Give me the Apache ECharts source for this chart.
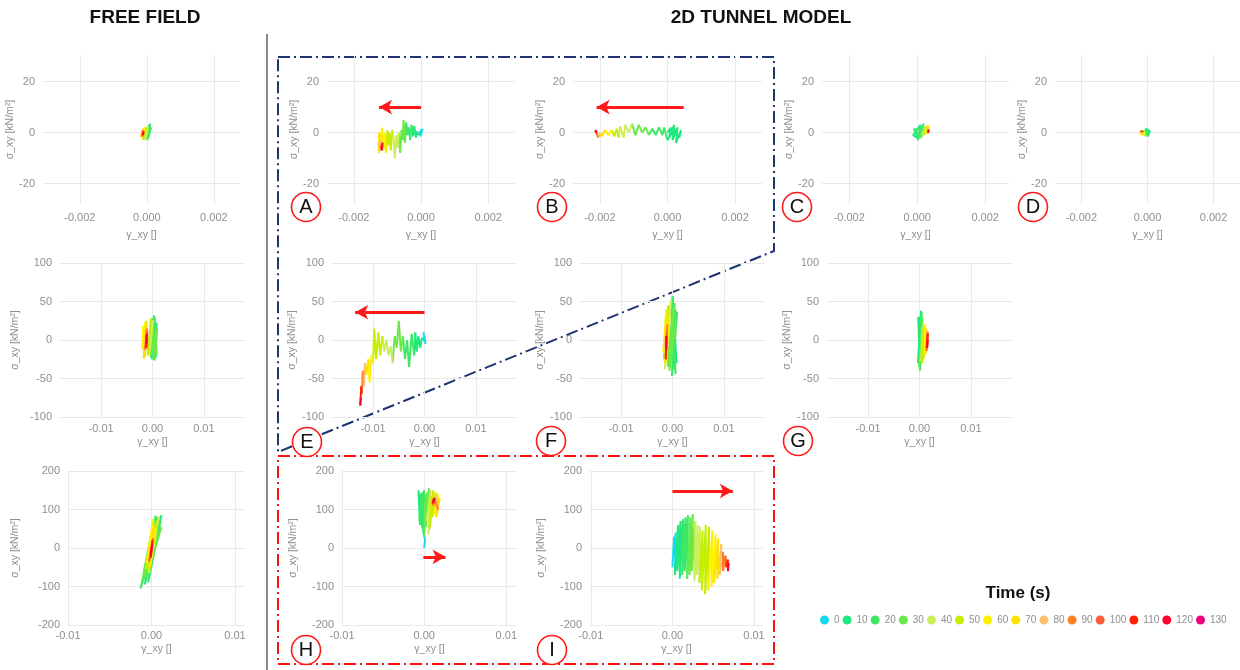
<!DOCTYPE html>
<html>
<head>
<meta charset="utf-8">
<script src="https://cdn.jsdelivr.net/npm/echarts@6/dist/echarts.min.js"></script>
<style>
  html, body { margin: 0; padding: 0; background: #fff; }
  #chart { width: 1240px; height: 670px; }
</style>
</head>
<body>
<div id="chart"></div>
<script>
// time bands of the colour legend (s)
const timeBands = [0, 10, 20, 30, 40, 50, 60, 70, 80, 90, 100, 110, 120, 130];

// stress-strain paths, each point = [gamma_xy, sigma_xy (kN/m2), time (s)]
const freeField1 = [[0,0,0],[0.00008,2.5,10],[0.00002,-2.5,12],[0.0001,3.5,14],[0.00004,-2,16],[0.00012,2,18],[0.00001,-2.8,20],[0.00007,3,24],[-0.00002,-2.2,28],[0.00005,1.5,32],[-0.00004,-3,36],[0.00003,2.5,40],[-0.00008,-2.5,44],[-0.00002,2,48],[-0.00012,-2.8,52],[-0.00006,2,56],[-0.00016,-2,60],[-0.0001,1.5,65],[-0.00018,-1.5,70],[-0.00012,1,78],[-0.00014,-1.5,90],[-0.0001,0.5,100],[-0.00012,-1,110],[-0.0001,0,120]];
const tunnelA = [[0.00005,1.5,0],[-0.00002,-1.5,3],[0,1,5],[-0.00008,-1,8],[-0.00012,0.5,10],[-0.00015,-2,12],[-0.0002,2.5,14],[-0.00024,-1.5,16],[-0.00028,3,18],[-0.00032,-3,20],[-0.00036,2,22],[-0.0004,-1,24],[-0.00044,4,26],[-0.00048,-4,28],[-0.00052,5,30],[-0.00055,-3,32],[-0.00058,1,34],[-0.00062,-8,36],[-0.00066,0,38],[-0.0007,-6,40],[-0.00074,-1,42],[-0.00078,-10,44],[-0.00082,-2,46],[-0.00086,1,48],[-0.0009,-7,50],[-0.00094,0,52],[-0.00098,-5,54],[-0.001,1,56],[-0.00104,-8,58],[-0.00108,0,60],[-0.00112,-7,62],[-0.00116,2,64],[-0.0012,-6,66],[-0.00124,0,68],[-0.00126,-8,70],[-0.0012,-1,72],[-0.00128,-5,74],[-0.00118,-3,80],[-0.00122,-6,88],[-0.00114,-4,100],[-0.00118,-7,110],[-0.00115,-5,120]];
const tunnelB = [[0,0,0],[0.0001,2,10],[0.00005,-2,11],[0.0002,3,12],[0.00015,-3,13],[0.0003,2,14],[0.00025,-4,15],[0.0004,1,16],[0.00035,-2,17],[0.0002,1.5,18],[0,-3,19],[-0.0001,2,20],[-0.00015,-1,21],[-0.00025,2,22],[-0.00035,-1,24],[-0.00045,1.5,26],[-0.00055,-1,28],[-0.00065,2,30],[-0.00075,0,32],[-0.00085,3,34],[-0.00095,-1,36],[-0.00105,3.5,38],[-0.00115,0,40],[-0.00125,3,42],[-0.0013,-2,44],[-0.0014,2.5,46],[-0.00145,-2,48],[-0.0015,1.5,50],[-0.00158,-1.5,54],[-0.00165,1,58],[-0.00175,-1,62],[-0.00185,1,66],[-0.00195,-1.5,72],[-0.002,0,78],[-0.00205,-2,85],[-0.0021,-0.5,95],[-0.00212,1,110],[-0.00214,0,125]];
const tunnelC = [[0,0,0],[-0.0001,1.5,10],[0.00005,-2.5,12],[-0.00012,-1,14],[0.0001,3,16],[0.00002,-3,18],[0.00015,2,20],[-0.00008,1,22],[0.00012,-2,24],[0.00018,3.5,26],[0.00008,-2,28],[0.0002,1,32],[0.00014,-1,36],[0.00024,2.5,40],[0.0002,-1,44],[0.00028,2.5,50],[0.00025,-0.5,55],[0.00032,3,60],[0.0003,-0.5,66],[0.00034,2,72],[0.00031,0,80],[0.00033,1.2,95],[0.00032,0,110],[0.00034,0.8,125]];
const tunnelD = [[0,0,0],[0.00005,1,10],[-0.00002,-1.2,12],[0.00008,0.5,14],[-0.00005,1.5,16],[0.00003,-1.5,18],[-0.00008,1.2,20],[0.00006,-0.8,22],[-0.0001,0.5,26],[-0.00004,-1.5,30],[-0.00012,1,36],[-0.00008,-1,42],[-0.00016,0.8,48],[-0.00012,-1.2,54],[-0.0002,0.5,60],[-0.00018,-0.8,68],[-0.00022,0.3,76],[-0.00016,0.6,100],[-0.00015,0.2,120]];
const freeField2 = [[0,0,0],[0.0008,22,10],[0.0006,-24,12],[0.0004,30,14],[0.0002,-26,16],[0,28,18],[0.0007,-20,20],[0.0005,25,22],[-0.0002,-25,24],[0.0003,32,26],[0.0008,-18,28],[-0.0001,20,30],[0.0004,-27,32],[0.0009,15,34],[-0.0004,-22,36],[0.0001,26,38],[-0.0006,-18,42],[-0.0003,28,46],[-0.0009,-20,50],[-0.0012,25,53],[-0.0015,-22,56],[-0.0018,18,59],[-0.002,-12,62],[-0.0014,24,65],[-0.0017,-24,68],[-0.0013,20,72],[-0.0016,-15,76],[-0.0011,15,82],[-0.0014,-12,90],[-0.001,12,100],[-0.0012,-10,108],[-0.0011,8,116],[-0.0012,-5,125]];
const tunnelE = [[0,5,0],[0.0002,-5,2],[-0.0002,10,4],[0.0001,-2,6],[-0.0005,3,8],[-0.0008,-10,10],[-0.0012,5,12],[-0.0015,-15,14],[-0.0018,10,16],[-0.002,-20,18],[-0.0025,8,20],[-0.003,-35,22],[-0.0034,0,24],[-0.0038,-25,26],[-0.0042,5,28],[-0.0046,-15,30],[-0.005,25,32],[-0.0054,-10,34],[-0.0058,5,36],[-0.0062,-30,38],[-0.0066,-8,40],[-0.007,-20,42],[-0.0074,0,44],[-0.0078,-15,46],[-0.0082,5,48],[-0.0086,-20,50],[-0.009,10,52],[-0.0094,-25,54],[-0.0098,15,56],[-0.01,-30,58],[-0.0103,-20,60],[-0.0107,-55,63],[-0.0109,-25,66],[-0.0113,-45,70],[-0.0116,-30,74],[-0.0118,-60,80],[-0.012,-40,86],[-0.0122,-70,95],[-0.0123,-60,105],[-0.0125,-85,118],[-0.0124,-75,125]];
const tunnelF = [[0,0,0],[0.0005,40,10],[0.0002,-38,12],[-0.0002,50,14],[0.0008,-30,16],[0,57,18],[0.0006,-44,20],[-0.0004,45,22],[0.0009,35,24],[-0.0001,-47,26],[0.0004,48,28],[-0.0006,-40,30],[0.0007,25,32],[-0.0009,-35,34],[0.0002,40,36],[-0.0012,-30,38],[-0.0003,52,40],[-0.0015,-38,44],[-0.0008,45,48],[-0.0017,-25,52],[-0.0012,40,56],[-0.0018,-15,60],[-0.0006,30,64],[-0.0014,-30,68],[-0.0009,25,72],[-0.0016,-10,76],[-0.001,20,82],[-0.0013,-22,90],[-0.0011,10,100],[-0.0013,-25,108],[-0.0012,5,116],[-0.0012,-12,125]];
const tunnelG = [[0,0,0],[0.0001,-25,4],[-0.0002,30,7],[0,-35,12],[0.0003,38,14],[-0.0003,-30,16],[0.0004,36,18],[0.0001,-40,20],[0.0005,25,24],[-0.0001,-35,28],[0.0006,30,32],[0.0003,-28,36],[0.0007,20,40],[0.0005,-30,44],[0.0009,18,50],[0.0008,-25,54],[0.0011,20,58],[0.001,-20,62],[0.0013,15,66],[0.0012,-18,70],[0.0015,12,76],[0.0013,-12,82],[0.0016,10,90],[0.0014,-14,100],[0.0016,8,108],[0.0015,-10,116],[0.0016,0,125]];
const freeField3 = [[0,0,0],[0.0008,60,10],[-0.001,-80,12],[0.0012,85,14],[-0.0008,-95,16],[0.0006,80,18],[-0.0013,-105,20],[0.0011,70,22],[-0.0004,-90,24],[0.0005,84,26],[-0.0009,-60,28],[0.0012,55,30],[-0.0006,-75,32],[0.0003,75,34],[-0.0011,-85,36],[0.0009,82,38],[-0.0003,-65,40],[0.0007,62,44],[-0.0007,-55,50],[0.0006,70,53],[-0.0004,-60,56],[0.0002,75,59],[-0.0006,-40,62],[0.0005,50,65],[-0.0002,-50,68],[0.0003,60,72],[-0.0003,-35,76],[0.0002,25,100],[-0.0001,-25,105],[0.0001,20,110],[-0.0001,-20,115],[0.0001,10,120],[0,-5,125]];
const tunnelH = [[0,0,0],[0.0001,20,4],[-0.0001,45,8],[0,30,10],[-0.0004,140,12],[-0.0002,50,14],[-0.0007,150,16],[-0.0005,60,18],[-0.0003,145,20],[-0.0006,70,22],[0,150,24],[-0.0001,40,26],[0.0002,140,28],[0,30,30],[0.0004,145,32],[0.0002,55,34],[0.0006,155,36],[0.0003,70,38],[0.0008,150,40],[0.0005,35,44],[0.0009,135,48],[0.0007,50,50],[0.0011,150,53],[0.001,80,56],[0.0014,145,59],[0.0013,85,62],[0.0017,140,65],[0.0015,80,68],[0.0019,130,72],[0.0016,95,76],[0.0014,140,82],[0.0017,100,88],[0.0012,130,94],[0.0011,110,100],[0.0013,130,106],[0.001,115,112],[0.0012,128,118],[0.0011,118,125]];
const tunnelI = [[0,-50,0],[0.0002,30,2],[0.0001,-20,3],[0.0004,40,5],[0.0003,-70,7],[0.0007,60,11],[0.0006,-60,13],[0.001,70,15],[0.0009,-80,17],[0.0013,75,19],[0.0012,-70,21],[0.0016,80,23],[0.0015,-60,25],[0.0019,85,27],[0.0018,-80,29],[0.0022,80,31],[0.0021,-70,33],[0.0025,88,35],[0.0024,-60,37],[0.0028,70,39],[0.0027,-85,41],[0.0031,60,43],[0.003,-70,45],[0.0034,55,47],[0.0033,-90,49],[0.0037,45,51],[0.0036,-110,52],[0.0041,60,53],[0.004,-120,55],[0.0045,55,57],[0.0044,-110,59],[0.0049,45,61],[0.0048,-100,63],[0.0053,35,65],[0.0051,-90,67],[0.0056,25,70],[0.0055,-80,74],[0.006,10,78],[0.0058,-70,82],[0.0062,-10,86],[0.0062,-60,90],[0.0065,-20,95],[0.0066,-50,100],[0.0068,-30,110],[0.0068,-60,118],[0.0069,-40,125]];

// direction arrows: [start, end] in [gamma, sigma]
const arrowA = [[0, 10], [-0.00125, 10]];
const arrowB = [[0.00048, 10], [-0.0021, 10]];
const arrowE = [[0, 36], [-0.0135, 36]];
const arrowH = [[-0.0001, -23], [0.0026, -23]];
const arrowI = [[0, 148], [0.0074, 148]];

const bandColors = ['#1ad8ee', '#1ee87e', '#3ee866', '#6aea48', '#ccee5a', '#c6ee00', '#fff200',
  '#ffe000', '#ffc070', '#ff8020', '#ff5c3a', '#ff2200', '#ff0030', '#f0007a'];

// row layout and axis ranges
const rows = [
  { top: 55, height: 149, yMin: -28, yMax: 30.4, yTicks: [-20, 0, 20], xTicks: [-0.002, 0, 0.002], dec: 3, labelMargin: 8, xNameGap: 26 },
  { top: 263, height: 154, yMin: -100, yMax: 100, yTicks: [-100, -50, 0, 50, 100], xTicks: [-0.01, 0, 0.01], dec: 2, labelMargin: 6, xNameGap: 20 },
  { top: 471, height: 154, yMin: -200, yMax: 200, yTicks: [-200, -100, 0, 100, 200], xTicks: [-0.01, 0, 0.01], dec: 2, labelMargin: 5, xNameGap: 19 }
];

const panels = [
  { data: freeField1, row: 0, left: 43, width: 197, xMin: -0.0031, xMax: 0.00278, yGap: 22 },
  { data: tunnelA, row: 0, left: 327, width: 188, xMin: -0.0028, xMax: 0.0028, yGap: 26, arrow: arrowA },
  { data: tunnelB, row: 0, left: 573, width: 189, xMin: -0.0028, xMax: 0.0028, yGap: 26, arrow: arrowB },
  { data: tunnelC, row: 0, left: 822, width: 187, xMin: -0.0028, xMax: 0.0027, yGap: 26 },
  { data: tunnelD, row: 0, left: 1055, width: 185, xMin: -0.0028, xMax: 0.0028, yGap: 26 },
  { data: freeField2, row: 1, left: 60, width: 185, xMin: -0.018, xMax: 0.018, yGap: 39 },
  { data: tunnelE, row: 1, left: 332, width: 185, xMin: -0.018, xMax: 0.018, yGap: 31, arrow: arrowE },
  { data: tunnelF, row: 1, left: 580, width: 185, xMin: -0.018, xMax: 0.018, yGap: 33 },
  { data: tunnelG, row: 1, left: 827, width: 185, xMin: -0.018, xMax: 0.018, yGap: 33 },
  { data: freeField3, row: 2, left: 68, width: 177, xMin: -0.01, xMax: 0.0112, yGap: 47 },
  { data: tunnelH, row: 2, left: 342, width: 175, xMin: -0.01, xMax: 0.0113, yGap: 43, arrow: arrowH },
  { data: tunnelI, row: 2, left: 590, width: 173, xMin: -0.0101, xMax: 0.0111, yGap: 43, arrow: arrowI }
];

const letters = [
  { t: 'A', x: 306, y: 207 }, { t: 'B', x: 552, y: 207 }, { t: 'C', x: 797, y: 207 }, { t: 'D', x: 1033, y: 207 },
  { t: 'E', x: 307, y: 442 }, { t: 'F', x: 551, y: 441 }, { t: 'G', x: 798, y: 441 },
  { t: 'H', x: 306, y: 650 }, { t: 'I', x: 552, y: 650 }
];

const font = 'Liberation Sans, Arial, sans-serif';
const grey = '#8f8f8f';

function bandOf(t) { return Math.min(Math.floor(t / 10), timeBands.length - 1); }

// split one path into coloured pieces, one per time band
function pathSeries(points, gi) {
  const pieces = [];
  let cur = null;
  points.forEach((p, i) => {
    const b = bandOf(p[2]);
    if (!cur || cur.band !== b) {
      cur = { band: b, pts: i > 0 ? [[points[i - 1][0], points[i - 1][1]]] : [] };
      pieces.push(cur);
    }
    cur.pts.push([p[0], p[1]]);
  });
  return pieces.map(s => ({
    type: 'line', name: String(timeBands[s.band]),
    xAxisIndex: gi, yAxisIndex: gi, data: s.pts,
    symbol: 'none', showSymbol: false, silent: true,
    lineStyle: { color: bandColors[s.band], width: 2 },
    itemStyle: { color: bandColors[s.band] }
  }));
}

const grids = [], xAxes = [], yAxes = [], series = [];

// empty series so that every band shows in the legend
timeBands.forEach((t, i) => {
  series.push({ type: 'line', name: String(t), data: [], xAxisIndex: 0, yAxisIndex: 0, itemStyle: { color: bandColors[i] } });
});

panels.forEach((p, gi) => {
  const r = rows[p.row];
  grids.push({ left: p.left, top: r.top, width: p.width, height: r.height, outerBoundsMode: 'none', containLabel: false });
  xAxes.push({
    type: 'value', gridIndex: gi, min: p.xMin, max: p.xMax,
    name: 'γ_xy []', nameLocation: 'middle', nameGap: r.xNameGap,
    nameTextStyle: { color: grey, fontSize: 10.5, fontFamily: font },
    axisLine: { show: false },
    axisTick: { show: false, customValues: r.xTicks },
    axisLabel: { customValues: r.xTicks, color: grey, fontSize: 11, fontFamily: font, margin: r.labelMargin,
      formatter: v => v.toFixed(r.dec) },
    splitLine: { show: true, lineStyle: { color: '#e9e9e9', width: 1 } }
  });
  yAxes.push({
    type: 'value', gridIndex: gi, min: r.yMin, max: r.yMax,
    name: 'σ_xy [kN/m²]', nameLocation: 'middle', nameGap: p.yGap, nameRotate: 90,
    nameTextStyle: { color: grey, fontSize: 10.5, fontFamily: font },
    axisLine: { show: false },
    axisTick: { show: false, customValues: r.yTicks },
    axisLabel: { customValues: r.yTicks, color: grey, fontSize: 11, fontFamily: font, margin: 8 },
    splitLine: { show: true, lineStyle: { color: '#e9e9e9', width: 1 } }
  });
  const s = pathSeries(p.data, gi);
  if (p.arrow) {
    s[0].markLine = {
      silent: true, symbol: ['none', 'arrow'], symbolSize: [11, 13], animation: false,
      label: { show: false },
      lineStyle: { color: '#ff1a1a', width: 3, type: 'solid' },
      data: [[{ coord: p.arrow[0] }, { coord: p.arrow[1] }]]
    };
  }
  series.push(...s);
});

const dashDot = [12, 4, 2, 4];
const graphics = [
  { type: 'text', x: 145, y: 18, style: { text: 'FREE FIELD', font: 'bold 19px ' + font, fill: '#111', textAlign: 'center', textVerticalAlign: 'middle' } },
  { type: 'text', x: 761, y: 18, style: { text: '2D TUNNEL MODEL', font: 'bold 19px ' + font, fill: '#111', textAlign: 'center', textVerticalAlign: 'middle' } },
  { type: 'line', shape: { x1: 267, y1: 34, x2: 267, y2: 670 }, style: { stroke: '#8a8a8a', lineWidth: 2 } },
  { type: 'polygon', shape: { points: [[278, 57], [774, 57], [774, 251], [278, 452]] },
    style: { fill: 'none', stroke: '#1f3572', lineWidth: 2, lineDash: dashDot } },
  { type: 'rect', shape: { x: 278, y: 456, width: 496, height: 208 },
    style: { fill: 'none', stroke: '#ff1010', lineWidth: 2, lineDash: dashDot } },
  { type: 'text', x: 1018, y: 593, style: { text: 'Time (s)', font: 'bold 17px ' + font, fill: '#111', textAlign: 'center', textVerticalAlign: 'middle' } }
];
letters.forEach(l => {
  graphics.push({ type: 'circle', shape: { cx: l.x, cy: l.y, r: 14.5 }, style: { fill: '#fff', stroke: '#ff1a1a', lineWidth: 1.6 }, z: 10 });
  graphics.push({ type: 'text', x: l.x, y: l.y, z: 11,
    style: { text: l.t, font: '20px ' + font, fill: '#111', textAlign: 'center', textVerticalAlign: 'middle' } });
});

const chart = echarts.init(document.getElementById('chart'));
chart.setOption({
  animation: false,
  backgroundColor: '#fff',
  grid: grids,
  xAxis: xAxes,
  yAxis: yAxes,
  legend: {
    data: timeBands.map(String), left: 820, top: 615, width: 420, icon: 'circle',
    itemWidth: 9, itemHeight: 9, itemGap: 3, padding: 0, selectedMode: false,
    textStyle: { color: grey, fontSize: 10, fontFamily: font }
  },
  graphic: graphics,
  series: series
});
</script>
</body>
</html>
